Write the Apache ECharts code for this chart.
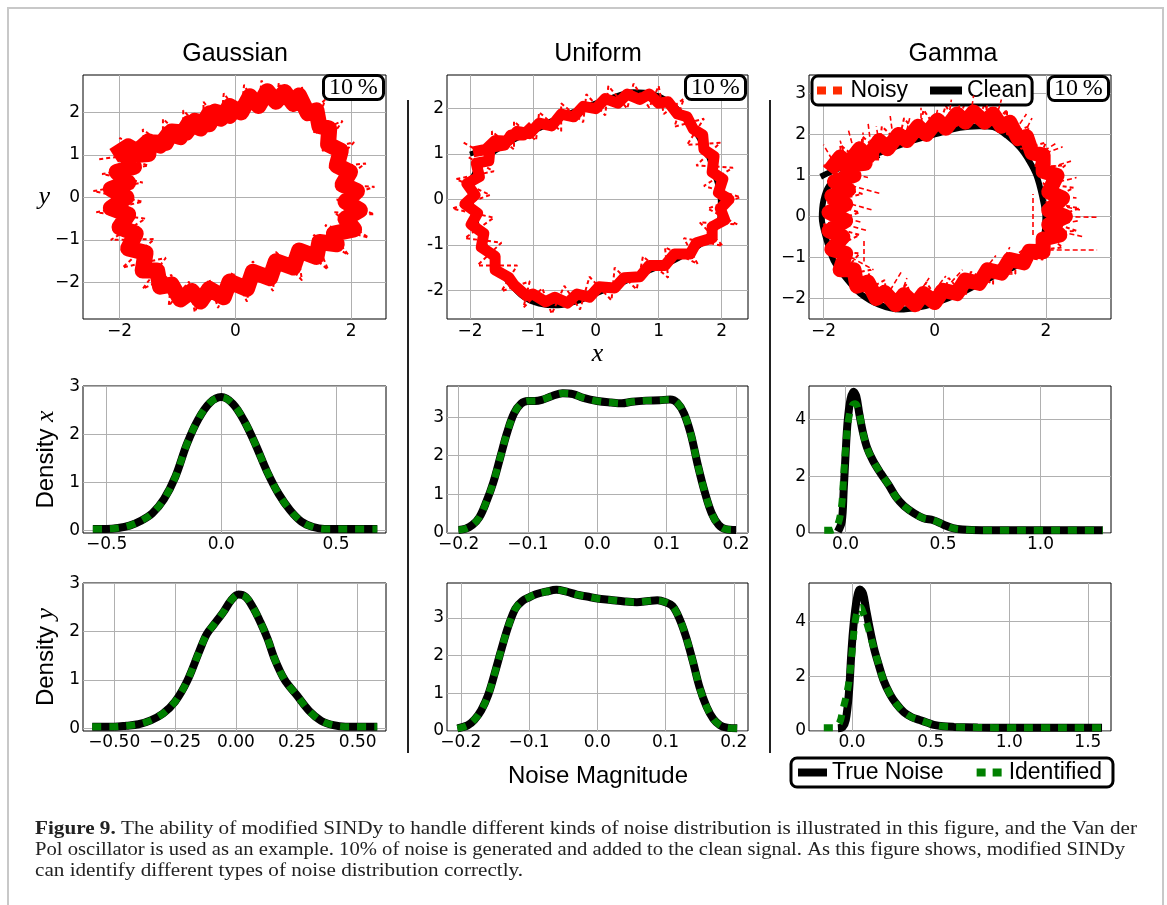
<!DOCTYPE html>
<html lang="en">
<head>
<meta charset="utf-8" />
<title>Figure 9</title>
<script src="https://cdn.jsdelivr.net/npm/echarts@6.0.0/dist/echarts.min.js"></script>
</head>
<body style="margin:0;background:#fff">
<div id="main" style="width:1167px;height:905px"></div>
<script>
// ---------- data ----------
var cleanLoop = [[-2.0,1.0],[-1.7,1.15],[-1.4,1.32],[-1.0,1.55],[-0.6,1.8],[-0.2,2.02],[0.2,2.22],[0.6,2.37],[0.9,2.33],[1.15,2.17],[1.4,1.85],[1.6,1.45],[1.78,0.98],[1.9,0.5],[1.98,0.05],[1.98,-0.3],[1.92,-0.6],[1.75,-0.9],[1.5,-1.15],[1.2,-1.38],[0.8,-1.6],[0.4,-1.85],[0,-2.08],[-0.3,-2.25],[-0.6,-2.34],[-0.9,-2.3],[-1.15,-2.15],[-1.4,-1.8],[-1.6,-1.4],[-1.78,-0.95],[-1.9,-0.5],[-1.98,-0.05],[-1.98,0.3],[-1.92,0.6],[-1.75,0.9],[-1.5,1.15],[-1.2,1.38],[-0.8,1.62],[-0.4,1.88],[0,2.1]];

var gaussNoisy = [[-2.1,0.98],[-1.85,1.2],[-1.7,1.08],[-1.5,1.32],[-1.3,1.22],[-1.15,1.5],[-0.95,1.42],[-0.8,1.75],[-0.6,1.62],[-0.45,1.98],[-0.25,1.85],[-0.1,2.15],[0.1,2.0],[0.25,2.38],[0.4,2.15],[0.55,2.5],[0.7,2.25],[0.85,2.48],[1.0,2.2],[1.1,2.4],[1.25,1.98],[1.4,2.05],[1.45,1.68],[1.62,1.62],[1.6,1.25],[1.82,1.1],[1.75,0.75],[1.98,0.6],[1.85,0.3],[2.1,0.15],[1.9,-0.1],[2.15,-0.3],[1.9,-0.5],[2.05,-0.75],[1.7,-0.85],[1.75,-1.1],[1.45,-1.05],[1.4,-1.4],[1.1,-1.25],[1.0,-1.65],[0.7,-1.5],[0.6,-1.9],[0.3,-1.75],[0.2,-2.15],[-0.1,-1.98],[-0.2,-2.35],[-0.45,-2.15],[-0.6,-2.45],[-0.75,-2.2],[-0.95,-2.4],[-1.1,-2.05],[-1.3,-2.1],[-1.35,-1.72],[-1.6,-1.72],[-1.55,-1.3],[-1.85,-1.2],[-1.72,-0.85],[-2.0,-0.7],[-1.85,-0.4],[-2.15,-0.25],[-1.88,0.0],[-2.15,0.2],[-1.85,0.35],[-2.05,0.6],[-1.75,0.72],[-1.9,0.98],[-1.5,1.02],[-1.5,1.3],[-1.2,1.28],[-1.1,1.55],[-0.85,1.52],[-0.7,1.8],[-0.45,1.72],[-0.35,2.02],[-0.1,1.92],[0.05,2.2]];
var gaussFringe = [[-2.35,0.9],[-1.75,1.0],[-2.0,1.4],[-1.55,1.1],[-1.6,1.6],[-1.25,1.25],[-1.25,1.85],[-0.9,1.4],[-0.9,2.05],[-0.55,1.55],[-0.55,2.25],[-0.25,1.72],[-0.2,2.45],[0.1,1.88],[0.15,2.65],[0.4,2.02],[0.45,2.75],[0.7,2.08],[0.75,2.7],[1.0,2.02],[1.15,2.6],[1.2,1.85],[1.55,2.3],[1.35,1.5],[1.85,1.8],[1.5,1.1],[2.05,1.3],[1.62,0.7],[2.25,0.8],[1.72,0.3],[2.4,0.25],[1.75,-0.05],[2.4,-0.4],[1.7,-0.35],[2.3,-0.95],[1.55,-0.65],[1.95,-1.35],[1.35,-0.88],[1.6,-1.7],[1.05,-1.08],[1.15,-1.95],[0.7,-1.28],[0.65,-2.2],[0.3,-1.5],[0.2,-2.45],[-0.05,-1.75],[-0.3,-2.6],[-0.45,-1.92],[-0.7,-2.7],[-0.8,-1.98],[-1.15,-2.55],[-1.1,-1.82],[-1.6,-2.15],[-1.2,-1.42],[-1.95,-1.65],[-1.4,-0.98],[-2.15,-1.0],[-1.55,-0.5],[-2.4,-0.35],[-1.6,-0.1],[-2.45,0.15],[-1.6,0.35],[-2.3,0.55],[-1.5,0.75],[-2.1,1.0]];

var uniformNoisy = [[-1.95,1.05],[-1.75,1.1],[-1.6,1.3],[-1.4,1.28],[-1.25,1.5],[-1.05,1.45],[-0.9,1.68],[-0.7,1.62],[-0.55,1.88],[-0.35,1.82],[-0.2,2.05],[0,2.0],[0.15,2.22],[0.35,2.12],[0.5,2.32],[0.7,2.2],[0.85,2.32],[1.0,2.12],[1.15,2.15],[1.3,1.88],[1.45,1.82],[1.55,1.55],[1.7,1.42],[1.72,1.1],[1.88,0.95],[1.85,0.6],[2.02,0.45],[1.95,0.15],[2.12,0.0],[1.98,-0.2],[2.05,-0.45],[1.85,-0.6],[1.85,-0.85],[1.6,-0.95],[1.5,-1.2],[1.25,-1.2],[1.1,-1.45],[0.85,-1.45],[0.7,-1.7],[0.45,-1.72],[0.3,-1.95],[0.05,-1.92],[-0.1,-2.15],[-0.3,-2.08],[-0.45,-2.28],[-0.65,-2.15],[-0.8,-2.25],[-1.0,-2.08],[-1.1,-2.12],[-1.3,-1.88],[-1.38,-1.72],[-1.6,-1.55],[-1.6,-1.25],[-1.82,-1.05],[-1.78,-0.75],[-1.98,-0.55],[-1.88,-0.3],[-2.08,-0.1],[-1.92,0.1],[-2.05,0.35],[-1.85,0.5],[-1.9,0.8],[-1.7,0.85],[-1.68,1.15],[-1.45,1.2],[-1.35,1.42],[-1.15,1.42],[-1.0,1.62]];
var uniformFringe = [[-2.1,1.25],[-1.65,0.9],[-1.65,1.5],[-1.3,1.1],[-1.3,1.72],[-0.95,1.3],[-0.9,1.92],[-0.55,1.5],[-0.55,2.12],[-0.2,1.7],[-0.15,2.32],[0.15,1.85],[0.2,2.5],[0.5,2.0],[0.6,2.55],[0.85,2.02],[1.0,2.5],[1.08,1.88],[1.4,2.22],[1.25,1.6],[1.72,1.78],[1.45,1.2],[1.98,1.25],[1.6,0.75],[2.18,0.7],[1.72,0.3],[2.3,0.05],[1.78,-0.2],[2.25,-0.55],[1.65,-0.5],[2.02,-1.02],[1.4,-0.85],[1.62,-1.42],[1.1,-1.05],[1.15,-1.72],[0.75,-1.25],[0.65,-1.98],[0.3,-1.5],[0.25,-2.22],[-0.1,-1.7],[-0.25,-2.42],[-0.5,-1.9],[-0.7,-2.52],[-0.85,-1.95],[-1.15,-2.38],[-1.05,-1.8],[-1.5,-2.02],[-1.25,-1.45],[-1.88,-1.45],[-1.5,-0.95],[-2.08,-0.85],[-1.62,-0.4],[-2.28,-0.2],[-1.68,0.1],[-2.22,0.45],[-1.62,0.62],[-2.05,0.95]];

var gammaClean = [[-2.05,0.97],[-1.85,1.1],[-1.5,1.3],[-1.0,1.55],[-0.5,1.8],[0,2.0],[0.45,2.16],[0.8,2.2],[1.05,2.18],[1.3,1.97],[1.53,1.68],[1.7,1.35],[1.83,1.0],[1.93,0.5],[1.99,0.0],[1.98,-0.35],[1.9,-0.7],[1.7,-1.0],[1.4,-1.25],[1.0,-1.5],[0.5,-1.85],[0,-2.12],[-0.3,-2.22],[-0.62,-2.27],[-1.0,-2.15],[-1.34,-1.88],[-1.6,-1.5],[-1.82,-1.07],[-1.95,-0.55],[-2.03,-0.04],[-2.0,0.4],[-1.9,0.75],[-1.7,1.0],[-1.4,1.25],[-1.0,1.5]];
var gammaNoisy = [[-1.9,1.1],[-1.7,1.45],[-1.55,1.3],[-1.35,1.65],[-1.2,1.45],[-1.0,1.85],[-0.85,1.65],[-0.65,2.0],[-0.5,1.85],[-0.3,2.2],[-0.15,2.0],[0.05,2.35],[0.2,2.15],[0.4,2.5],[0.55,2.3],[0.7,2.55],[0.9,2.3],[1.05,2.5],[1.2,2.2],[1.35,2.3],[1.5,1.9],[1.65,1.95],[1.75,1.55],[1.95,1.5],[1.95,1.1],[2.2,1.0],[2.05,0.6],[2.3,0.45],[2.05,0.15],[2.35,0.0],[2.05,-0.2],[2.25,-0.45],[1.95,-0.55],[1.95,-0.86],[1.7,-0.85],[1.6,-1.13],[1.35,-1.05],[1.2,-1.38],[0.95,-1.3],[0.8,-1.63],[0.55,-1.55],[0.4,-1.88],[0.15,-1.8],[0.0,-2.1],[-0.2,-1.88],[-0.35,-2.15],[-0.55,-1.9],[-0.7,-2.15],[-0.9,-1.85],[-1.05,-2.0],[-1.2,-1.6],[-1.4,-1.7],[-1.45,-1.3],[-1.7,-1.3],[-1.6,-0.9],[-1.85,-0.8],[-1.65,-0.5],[-1.9,-0.35],[-1.6,-0.1],[-1.9,0.1],[-1.6,0.3],[-1.85,0.5],[-1.55,0.65],[-1.8,0.85],[-1.45,1.0],[-1.6,1.25],[-1.25,1.3],[-1.3,1.55],[-1.0,1.55]];
var gammaFringe = [[-2.0,1.25],[-1.65,1.1],[-1.7,1.75],[-1.35,1.35],[-1.3,1.95],[-1.0,1.6],[-0.95,2.2],[-0.65,1.8],[-0.55,2.4],[-0.3,1.95],[-0.2,2.6],[0.05,2.1],[0.2,2.7],[0.4,2.2],[0.55,2.8],[0.75,2.25],[0.9,2.75],[1.05,2.25],[1.3,2.6],[1.3,2.0],[1.7,2.2],[1.55,1.65],[2.0,1.8],[1.8,1.2],[2.35,1.25],[1.95,0.8],[2.5,0.7],[2.0,0.35],[2.6,0.2],[2.0,-0.1],[2.55,-0.35],[1.95,-0.4],[2.3,-0.75],[1.75,-0.85],[1.95,-1.05],[1.45,-1.0],[1.45,-1.4],[1.05,-1.2],[1.05,-1.65],[0.65,-1.35],[0.55,-1.95],[0.25,-1.5],[0.1,-2.15],[-0.15,-1.6],[-0.35,-2.25],[-0.5,-1.65],[-0.85,-2.1],[-0.9,-1.55],[-1.3,-1.85],[-1.15,-1.3],[-1.7,-1.45],[-1.35,-0.9],[-1.95,-0.85],[-1.35,-0.45],[-2.0,-0.2],[-1.35,0.1],[-1.95,0.35],[-1.3,0.55],[-1.9,0.8],[-1.35,1.1],[-1.75,1.35]];
var gammaSpikes = [
  [[2.05,-0.82],[2.92,-0.82]],[[2.1,0.0],[2.95,-0.02]],[[2.1,0.3],[2.65,0.15]],[[2.2,0.5],[2.55,0.45]],
  [[2.0,-0.3],[2.7,-0.5]],[[1.76,-0.45],[1.76,0.55]],[[2.1,1.2],[2.45,1.35]],[[2.0,1.55],[2.3,1.7]],
  [[1.6,2.0],[1.75,2.4]],[[1.2,2.3],[1.3,2.62]],[[0.9,2.4],[0.95,2.75]],[[0.4,2.4],[0.45,2.75]],
  [[0.0,2.3],[0.05,2.6]],[[-0.5,2.1],[-0.45,2.4]],[[-1.0,1.8],[-1.05,2.2]],[[-1.3,1.6],[-1.3,2.05]],
  [[-1.6,1.4],[-1.7,1.85]],[[-1.5,0.75],[-0.95,0.55]],[[-1.5,0.3],[-1.1,0.15]],[[-1.6,-0.2],[-1.2,-0.35]],
  [[-1.27,-0.6],[-1.27,-1.1]],[[-1.5,-1.0],[-1.1,-1.3]],[[-0.8,-1.8],[-0.6,-1.35]],[[-0.3,-1.9],[-0.1,-1.5]],
  [[0.3,-1.6],[0.5,-1.3]],[[0.9,-1.3],[1.1,-0.95]],[[1.4,-1.0],[1.7,-0.7]],[[0.9,-1.4],[1.4,-1.4]],
  [[-1.85,1.4],[-2.0,1.75]],[[-1.45,1.6],[-1.55,2.1]],[[-1.15,1.75],[-1.2,2.3]],[[-0.75,1.95],[-0.8,2.45]],
  [[-0.25,2.2],[-0.25,2.65]],[[0.25,2.4],[0.3,2.85]],[[0.65,2.5],[0.7,2.95]],[[1.1,2.4],[1.2,2.85]],
  [[1.45,2.1],[1.65,2.5]],[[1.85,1.5],[2.2,1.8]],[[2.1,0.8],[2.55,0.95]],[[2.2,-0.2],[2.6,-0.1]],
  [[-1.7,0.0],[-1.3,-0.15]],[[-1.7,1.1],[-1.2,0.95]],[[0.0,-1.8],[0.2,-1.45]],[[-0.6,-1.9],[-0.5,-1.5]],
  [[1.2,-1.15],[1.35,-0.75]]
];

var gaussX = [[-0.56,0.03],[-0.5,0.03],[-0.45,0.05],[-0.4,0.1],[-0.35,0.2],[-0.3,0.36],[-0.25,0.65],[-0.2,1.12],[-0.15,1.8],[-0.1,2.32],[-0.05,2.66],[0,2.78],[0.05,2.64],[0.1,2.28],[0.15,1.78],[0.2,1.22],[0.25,0.76],[0.3,0.42],[0.35,0.18],[0.4,0.07],[0.45,0.03],[0.5,0.03],[0.6,0.03],[0.68,0.03]];
var gaussY = [[-0.59,0.03],[-0.5,0.03],[-0.45,0.05],[-0.4,0.08],[-0.35,0.16],[-0.3,0.3],[-0.25,0.55],[-0.2,0.98],[-0.15,1.6],[-0.12,1.95],[-0.09,2.15],[-0.05,2.42],[-0.02,2.65],[0.01,2.77],[0.04,2.72],[0.07,2.5],[0.1,2.2],[0.13,1.85],[0.16,1.42],[0.2,1.0],[0.25,0.68],[0.3,0.36],[0.35,0.15],[0.4,0.06],[0.45,0.03],[0.5,0.03],[0.58,0.03]];
var uniformX = [[-0.2,0.07],[-0.19,0.1],[-0.18,0.2],[-0.17,0.4],[-0.16,0.8],[-0.15,1.3],[-0.14,1.95],[-0.13,2.6],[-0.12,3.1],[-0.11,3.35],[-0.1,3.42],[-0.09,3.42],[-0.08,3.45],[-0.065,3.55],[-0.05,3.62],[-0.035,3.6],[-0.02,3.5],[0,3.42],[0.02,3.38],[0.035,3.36],[0.05,3.4],[0.07,3.43],[0.09,3.44],[0.105,3.46],[0.115,3.38],[0.125,3.1],[0.135,2.55],[0.145,1.75],[0.155,1.05],[0.165,0.5],[0.175,0.2],[0.185,0.09],[0.2,0.07]];
var uniformY = [[-0.205,0.07],[-0.19,0.15],[-0.18,0.3],[-0.17,0.55],[-0.16,0.95],[-0.15,1.55],[-0.14,2.2],[-0.13,2.8],[-0.12,3.25],[-0.11,3.45],[-0.1,3.55],[-0.09,3.63],[-0.075,3.7],[-0.06,3.75],[-0.045,3.7],[-0.03,3.62],[-0.015,3.57],[0,3.52],[0.02,3.48],[0.04,3.44],[0.058,3.42],[0.075,3.45],[0.088,3.47],[0.1,3.42],[0.11,3.32],[0.12,3.0],[0.13,2.5],[0.14,1.85],[0.15,1.15],[0.16,0.65],[0.17,0.32],[0.18,0.15],[0.19,0.09],[0.205,0.07]];
var gammaXTrue = [[-0.04,0.05],[-0.02,0.4],[-0.01,1.5],[0,2.8],[0.01,3.9],[0.025,4.7],[0.04,4.97],[0.055,4.8],[0.07,4.2],[0.09,3.5],[0.11,3.0],[0.14,2.55],[0.18,2.1],[0.22,1.7],[0.26,1.25],[0.3,0.95],[0.35,0.7],[0.4,0.52],[0.45,0.45],[0.5,0.3],[0.55,0.17],[0.6,0.12],[0.7,0.1],[0.8,0.1],[1.0,0.1],[1.2,0.1],[1.32,0.1]];
var gammaXId = [[-0.11,0.1],[-0.07,0.1],[-0.04,0.3],[-0.02,1.0],[-0.01,2.0],[0,3.0],[0.015,4.0],[0.035,4.5],[0.05,4.55],[0.07,4.2],[0.09,3.5],[0.11,3.0],[0.14,2.55],[0.18,2.1],[0.22,1.7],[0.26,1.25],[0.3,0.95],[0.35,0.7],[0.4,0.52],[0.45,0.45],[0.5,0.3],[0.55,0.17],[0.6,0.12],[0.7,0.1],[0.8,0.1],[1.0,0.1],[1.2,0.1],[1.32,0.1]];
var gammaYTrue = [[-0.09,0.1],[-0.06,0.15],[-0.04,0.4],[-0.02,1.4],[-0.005,2.8],[0.01,3.9],[0.03,4.8],[0.05,5.15],[0.07,5.0],[0.09,4.4],[0.11,3.8],[0.14,3.0],[0.17,2.4],[0.2,1.85],[0.24,1.35],[0.28,1.0],[0.33,0.68],[0.38,0.5],[0.43,0.4],[0.48,0.3],[0.52,0.22],[0.58,0.17],[0.65,0.15],[0.8,0.13],[1.0,0.12],[1.2,0.12],[1.4,0.12],[1.59,0.12]];
var gammaYId = [[-0.18,0.12],[-0.12,0.12],[-0.08,0.3],[-0.06,0.75],[-0.04,1.2],[-0.02,1.8],[0,2.9],[0.02,4.0],[0.04,4.45],[0.055,4.5],[0.07,4.3],[0.09,4.0],[0.11,3.6],[0.14,3.0],[0.17,2.4],[0.2,1.85],[0.24,1.35],[0.28,1.0],[0.33,0.68],[0.38,0.5],[0.43,0.4],[0.48,0.3],[0.52,0.22],[0.58,0.17],[0.65,0.15],[0.8,0.13],[1.0,0.12],[1.2,0.12],[1.4,0.12],[1.59,0.12]];

// tick values per panel (row-major, 3 x 3)
var xTicks = [[-2,0,2],[-2,-1,0,1,2],[-2,0,2],
              [-0.5,0,0.5],[-0.2,-0.1,0,0.1,0.2],[0,0.5,1],
              [-0.5,-0.25,0,0.25,0.5],[-0.2,-0.1,0,0.1,0.2],[0,0.5,1,1.5]];
var yTicks = [[-2,-1,0,1,2],[-2,-1,0,1,2],[-2,-1,0,1,2,3],
              [0,1,2,3],[0,1,2,3],[0,2,4],
              [0,1,2,3],[0,1,2,3],[0,2,4]];
var xDecimals = [0,0,0, 1,1,1, 2,1,1];
var yDecimals = [0,0,0, 0,0,0, 0,0,0];
var xRange = [[-2.63,2.6],[-2.365,2.42],[-2.26,3.17],[-0.603,0.718],[-0.2167,0.2173],[-0.188,1.362],[-0.628,0.616],[-0.2202,0.2208],[-0.274,1.647]];
var yRange = [[-2.86,2.88],[-2.63,2.74],[-2.5,3.45],[-0.055,3.01],[-0.01,3.81],[0,5.17],[-0.06,3.01],[0,3.93],[0,5.39]];
var colTitles = ['Gaussian','Uniform','Gamma'];
var captionLines = [
  ' The ability of modified SINDy to handle different kinds of noise distribution is illustrated in this figure, and the Van der',
  'Pol oscillator is used as an example. 10% of noise is generated and added to the clean signal. As this figure shows, modified SINDy',
  'can identify different types of noise distribution correctly.'
];

// ---------- layout ----------
var boxes = [
  [83,75,303,244],[447,75,301,244],[809,75,302,244],
  [83,386,303,147],[447,386,301,147],[809,386,302,147],
  [83,583,303,148],[447,583,301,148],[809,583,302,148]
];
var SANS = 'Liberation Sans', TICK = 'DejaVu Sans', SERIF = 'Liberation Serif';

function fmt(dec, minus) {
  return function (v) {
    var s = Math.abs(v).toFixed(dec);
    return v < 0 ? minus + s : s;
  };
}

var grids = [], xAxes = [], yAxes = [], series = [];
for (var i = 0; i < 9; i++) {
  var b = boxes[i];
  grids.push({left: b[0], top: b[1], width: b[2], height: b[3], show: true,
    borderColor: '#000', borderWidth: 1, backgroundColor: 'transparent'});
  xAxes.push({type: 'value', gridIndex: i, min: xRange[i][0], max: xRange[i][1],
    axisLine: {show: false}, axisTick: {show: false, customValues: xTicks[i]},
    axisLabel: {customValues: xTicks[i], formatter: fmt(xDecimals[i], '\u2212'),
      color: '#000', fontFamily: TICK, fontSize: 17, margin: i < 3 ? 4 : 3},
    splitLine: {show: true, lineStyle: {color: '#b0b0b0', width: 1}}});
  yAxes.push({type: 'value', gridIndex: i, min: yRange[i][0], max: yRange[i][1],
    axisLine: {show: false}, axisTick: {show: false, customValues: yTicks[i]},
    axisLabel: {customValues: yTicks[i], formatter: fmt(yDecimals[i], i === 1 ? '-' : '\u2212'),
      color: '#000', fontFamily: TICK, fontSize: 17, margin: 3},
    splitLine: {show: true, lineStyle: {color: '#b0b0b0', width: 1}}});
}
// axis names
yAxes[0].name = 'y';
yAxes[0].nameLocation = 'middle';
yAxes[0].nameRotate = 0;
yAxes[0].nameGap = 32;
yAxes[0].nameTextStyle = {fontFamily: SERIF, fontStyle: 'italic', fontSize: 26, color: '#000'};
xAxes[1].name = 'x';
xAxes[1].nameLocation = 'middle';
xAxes[1].nameGap = 18;
xAxes[1].nameTextStyle = {fontFamily: SERIF, fontStyle: 'italic', fontSize: 26, color: '#000'};
[[3, 'x'], [6, 'y']].forEach(function (p) {
  var ax = yAxes[p[0]];
  ax.name = '{a|Density }{b|' + p[1] + '}';
  ax.nameLocation = 'middle';
  ax.nameRotate = 90;
  ax.nameGap = 24;
  ax.nameTextStyle = {rich: {
    a: {fontFamily: SANS, fontSize: 24, color: '#000'},
    b: {fontFamily: SERIF, fontStyle: 'italic', fontSize: 26, color: '#000'}
  }};
});

// phase portraits: clean under, thin noisy fringe, thick noisy core
var cleanSets = [cleanLoop, cleanLoop, gammaClean];
var noisySets = [gaussNoisy, uniformNoisy, gammaNoisy];
var fringeSets = [gaussFringe, uniformFringe, gammaFringe];
var coreWidth = [16, 11, 15];
for (var k = 0; k < 3; k++) {
  series.push({type: 'line', name: 'Clean', xAxisIndex: k, yAxisIndex: k, data: cleanSets[k],
    symbol: 'none', smooth: 0.3, lineStyle: {color: '#000', width: k === 2 ? 6 : 5}, itemStyle: {color: '#000'}, z: 2});
  series.push({type: 'line', name: 'Noisy', xAxisIndex: k, yAxisIndex: k, data: fringeSets[k],
    symbol: 'none', lineStyle: {color: '#ff0000', width: 2, type: [4, 3]},
    itemStyle: {color: '#ff0000'}, z: 3});
  series.push({type: 'line', name: 'Noisy', xAxisIndex: k, yAxisIndex: k, data: noisySets[k],
    symbol: 'none', lineStyle: {color: '#ff0000', width: coreWidth[k], join: 'round'},
    itemStyle: {color: '#ff0000'}, z: 4});
}
series.push({type: 'lines', coordinateSystem: 'cartesian2d', xAxisIndex: 2, yAxisIndex: 2,
  data: gammaSpikes.map(function (c) { return {coords: c}; }),
  lineStyle: {color: '#ff0000', width: 1.6, type: [5, 3], opacity: 1}, silent: true, z: 4});

// densities
var trueSets = [gaussX, uniformX, gammaXTrue, gaussY, uniformY, gammaYTrue];
var idSets = [gaussX, uniformX, gammaXId, gaussY, uniformY, gammaYId];
for (var d = 0; d < 6; d++) {
  var gi = d + 3;
  series.push({type: 'line', name: 'True Noise', xAxisIndex: gi, yAxisIndex: gi, data: trueSets[d],
    symbol: 'none', smooth: 0.35, lineStyle: {color: '#000', width: 8}, itemStyle: {color: '#000'}, z: 2});
  series.push({type: 'line', name: 'Identified', xAxisIndex: gi, yAxisIndex: gi, data: idSets[d],
    symbol: 'none', smooth: 0.35, lineStyle: {color: '#008000', width: 7, type: [9, 8]},
    itemStyle: {color: '#008000'}, z: 3});
}

var pctBox = function (left, top) {
  return {text: '10\u2009%', left: left, top: top, padding: [1, 6, 0, 6],
    borderColor: '#000', borderWidth: 3, borderRadius: 6, backgroundColor: '#fff',
    textStyle: {fontFamily: SERIF, fontSize: 24, fontWeight: 'normal', color: '#000', lineHeight: 24}};
};
var titles = [
  {text: colTitles[0], left: 230, top: 37, textAlign: 'center'},
  {text: colTitles[1], left: 593, top: 37, textAlign: 'center'},
  {text: colTitles[2], left: 948, top: 37, textAlign: 'center'},
  {text: 'Noise Magnitude', left: 593, top: 759, textAlign: 'center'}
].map(function (t) {
  t.textStyle = {fontFamily: SANS, fontSize: 25, fontWeight: 'normal', color: '#000'};
  return t;
}).concat([pctBox(323, 75), pctBox(685, 75), pctBox(1048, 76)]);
titles[3].textStyle.fontSize = 24;

// caption: each line fitted to its measured width in the figure
var capWidths = [1102, 1090, 488];
var mctx = document.createElement('canvas').getContext('2d');
function lineW(txt, bold) {
  mctx.font = (bold ? 'bold ' : '') + '18px "' + SERIF + '"';
  return mctx.measureText(txt).width;
}
var capScale = [
  capWidths[0] / (lineW('Figure 9.', true) + lineW(captionLines[0])),
  capWidths[1] / lineW(captionLines[1]),
  capWidths[2] / lineW(captionLines[2])
];
var capTexts = ['{b|Figure 9.}' + captionLines[0], captionLines[1], captionLines[2]];
var capGraphics = capTexts.map(function (t, n) {
  return {type: 'text', x: 35, y: 829 + 21 * n, scaleX: capScale[n], silent: true,
    style: {text: t, fontFamily: SERIF, fontSize: 18, fill: '#222', verticalAlign: 'middle',
      rich: {b: {fontFamily: SERIF, fontSize: 18, fontWeight: 'bold', fill: '#222'}}}};
});

var legendText = {fontFamily: SANS, fontSize: 23, color: '#000'};
var squares = 'path://M0,0h9v8h-9z M16,0h9v8h-9z';

var option = {
  animation: false,
  backgroundColor: '#fff',
  title: titles,
  grid: grids,
  xAxis: xAxes,
  yAxis: yAxes,
  legend: [
    {data: [{name: 'Noisy', icon: squares, itemStyle: {color: '#ff2a00'}}, {name: 'Clean', icon: 'rect', itemStyle: {color: '#000'}}],
      left: 812, top: 76, padding: [3, 5, 3, 5], itemGap: 22, itemWidth: 32, itemHeight: 8,
      borderColor: '#000', borderWidth: 3, borderRadius: 6, backgroundColor: '#fff',
      selectedMode: false, textStyle: legendText},
    {data: [{name: 'True Noise', icon: 'rect', itemStyle: {color: '#000'}}, {name: 'Identified', icon: squares, itemStyle: {color: '#008000'}}],
      left: 791, top: 758, padding: [3, 11, 3, 7], itemGap: 33, itemWidth: 29, itemHeight: 8,
      borderColor: '#000', borderWidth: 3, borderRadius: 6, backgroundColor: '#fff',
      selectedMode: false, textStyle: legendText}
  ],
  graphic: [
    {type: 'rect', shape: {x: 8, y: 8, width: 1155, height: 920}, style: {fill: 'none', stroke: '#c8c8c8', lineWidth: 2}, silent: true},
    {type: 'line', shape: {x1: 408, y1: 100, x2: 408, y2: 753}, style: {stroke: '#222', lineWidth: 2}, silent: true},
    {type: 'line', shape: {x1: 770, y1: 100, x2: 770, y2: 753}, style: {stroke: '#222', lineWidth: 2}, silent: true}
  ].concat(capGraphics),
  series: series
};

var chart = echarts.init(document.getElementById('main'));
chart.setOption(option);
</script>
</body>
</html>
